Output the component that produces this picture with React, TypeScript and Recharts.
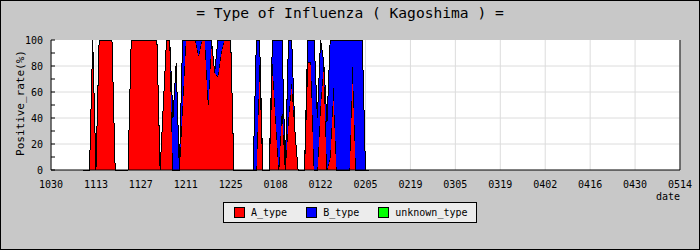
import React from 'react';
import { AreaChart, Area, XAxis, YAxis, CartesianGrid, Legend } from 'recharts';

// x axis: days counted from 10/30
const xTickDays = [0, 14, 28, 42, 56, 70, 84, 98, 112, 126, 140, 154, 168, 182, 196];
const xTickLabels = ['1030', '1113', '1127', '1211', '1225', '0108', '0122', '0205', '0219', '0305', '0319', '0402', '0416', '0430', '0514'];
const yTicks = [0, 10, 20, 30, 40, 50, 60, 70, 80, 90, 100];
const yGridValues = [20, 40, 60, 80];

// daily values start at day 10 (11/09) and end at day 99 (02/06)
const firstDay = 10;
const aType = [
  0, 0, 0, 100, 0, 100, 100, 100, 100, 100,
  0, 0, 0, 0, 0, 100, 100, 100, 100, 100,
  100, 100, 100, 100, 0, 50, 100, 100, 0, 0,
  0, 50, 100, 100, 100, 100, 88, 100, 100, 50,
  100, 75, 72, 90, 100, 100, 100, 0, 0, 0,
  0, 0, 0, 0, 0, 83, 0, 0, 0, 83,
  40, 0, 50, 0, 40, 68, 30, 0, 0, 0,
  83, 83, 0, 0, 50, 83, 0, 10, 65, 0,
  0, 0, 0, 0, 83, 0, 0, 0, 0, 0,
];
const bType = [
  0, 0, 0, 0, 0, 0, 0, 0, 0, 0,
  0, 0, 0, 0, 0, 0, 0, 0, 0, 0,
  0, 0, 0, 0, 0, 0, 0, 0, 40, 82,
  0, 50, 0, 0, 0, 0, 12, 0, 0, 50,
  0, 0, 28, 10, 0, 0, 0, 0, 0, 0,
  0, 0, 0, 0, 100, 17, 0, 0, 0, 17,
  60, 100, 50, 0, 60, 32, 0, 0, 0, 0,
  17, 17, 100, 40, 50, 0, 37, 90, 35, 100,
  100, 100, 100, 100, 17, 100, 100, 100, 0, 0,
];
const unknownType = [
  0, 0, 0, 0, 0, 0, 0, 0, 0, 0,
  0, 0, 0, 0, 0, 0, 0, 0, 0, 0,
  0, 0, 0, 0, 0, 0, 0, 0, 0, 0,
  0, 0, 0, 0, 0, 0, 0, 0, 0, 0,
  0, 0, 0, 0, 0, 0, 0, 0, 0, 0,
  0, 0, 0, 0, 0, 0, 0, 0, 0, 0,
  0, 0, 0, 0, 0, 0, 0, 0, 0, 0,
  0, 0, 0, 0, 0, 0, 0, 0, 0, 0,
  0, 0, 0, 0, 0, 0, 0, 0, 0, 0,
];

const seriesKeys = ['A', 'B', 'U'];
const seriesNames = ['A_type', 'B_type', 'unknown_type'];
const seriesColors = ['#ff0000', '#0000ff', '#00ff00'];

const data = aType.map((a, i) => ({
  day: firstDay + i,
  A: a,
  B: bType[i],
  U: unknownType[i],
}));

const FONT = '"DejaVu Sans Mono", monospace';

const YTick = (props: any) => {
  const { x, y, payload } = props;
  const v = payload.value;
  return (
    <g>
      <line x1={x + 8} x2={x + 12} y1={y} y2={y} stroke="#000" />
      {v % 20 === 0 && (
        <text x={x} y={y} dy={4} textAnchor="end" fill="#000" fontSize={10} fontFamily={FONT}>
          {v}
        </text>
      )}
    </g>
  );
};

const YLabel = (props: any) => {
  const vb = props.viewBox || { x: 0, y: 40, width: 51, height: 130 };
  const cx = vb.x + 20;
  const cy = vb.y + vb.height / 2 - 2;
  return (
    <text
      x={cx}
      y={cy}
      transform={`rotate(-90 ${cx} ${cy})`}
      textAnchor="middle"
      dominantBaseline="central"
      fill="#000"
      fontSize={11}
      fontFamily={FONT}
    >
      Positive_rate(%)
    </text>
  );
};

const LegendBox = () => (
  <div
    style={{
      boxSizing: 'border-box',
      width: 254,
      height: 21,
      border: '1px solid #000',
      background: '#ececec',
      display: 'flex',
      alignItems: 'center',
      paddingLeft: 10,
      fontFamily: FONT,
      fontSize: 10,
      color: '#000',
      lineHeight: '10px',
    }}
  >
    {seriesNames.map((n, i) => (
      <div key={n} style={{ display: 'flex', alignItems: 'center', marginRight: i < seriesNames.length - 1 ? 19 : 0 }}>
        <span
          style={{
            display: 'inline-block',
            boxSizing: 'border-box',
            width: 11,
            height: 11,
            border: '1px solid #000',
            background: seriesColors[i],
            marginRight: 6,
          }}
        />
        <span>{n}</span>
      </div>
    ))}
  </div>
);

export default function App() {
  return (
    <div
      style={{
        position: 'absolute',
        left: 0,
        top: 0,
        width: 700,
        height: 250,
        background: '#c8c8c8',
        boxShadow: 'inset 0 0 0 1px #000',
        overflow: 'hidden',
      }}
    >
      <AreaChart width={700} height={250} data={data} margin={{ top: 40, right: 0, bottom: 29, left: 0 }}>
        <CartesianGrid stroke="#dcdcdc" fill="#ffffff" horizontalValues={yGridValues} />
        <XAxis
          dataKey="day"
          type="number"
          domain={[0, 196]}
          ticks={xTickDays}
          interval={0}
          tickFormatter={(v: number) => xTickLabels[xTickDays.indexOf(v)]}
          tickLine={false}
          tickSize={0}
          tickMargin={11}
          axisLine={{ stroke: '#000' }}
          height={30}
          tick={{ fill: '#000', fontSize: 10, fontFamily: FONT }}
          label={{ value: 'date', position: 'insideBottomRight', offset: 0, fill: '#000', fontSize: 10, fontFamily: FONT }}
        />
        <YAxis
          domain={[0, 100]}
          ticks={yTicks}
          interval={0}
          width={51}
          tickSize={0}
          tickMargin={8}
          tickLine={false}
          axisLine={{ stroke: '#000' }}
          tick={YTick}
          label={YLabel}
        />
        <YAxis yAxisId="right" orientation="right" width={20} domain={[0, 100]} tick={false} tickLine={false} axisLine={{ stroke: '#000' }} />
        {seriesKeys.map((k, i) => (
          <Area
            key={k}
            type="linear"
            dataKey={k}
            name={seriesNames[i]}
            stackId="1"
            stroke="#000"
            strokeWidth={1}
            fill={seriesColors[i]}
            fillOpacity={1}
            dot={false}
            activeDot={false}
            isAnimationActive={false}
            shapeRendering="crispEdges"
          />
        ))}
        <Legend
          verticalAlign="bottom"
          align="center"
          content={LegendBox}
          wrapperStyle={{ position: 'absolute', left: 223, top: 202, width: 254, height: 21 }}
        />
      </AreaChart>
      <div
        style={{
          position: 'absolute',
          left: 0,
          top: 5,
          width: 700,
          textAlign: 'center',
          fontFamily: FONT,
          fontSize: 14.6,
          lineHeight: '15px',
          color: '#000',
          pointerEvents: 'none',
        }}
      >
        = Type of Influenza ( Kagoshima ) =
      </div>
    </div>
  );
}
